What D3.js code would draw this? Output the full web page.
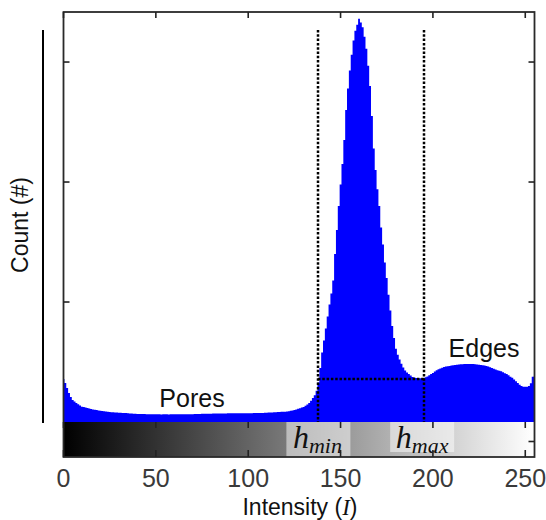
<!DOCTYPE html>
<html><head><meta charset="utf-8">
<script src="https://cdn.jsdelivr.net/npm/d3@7"></script>
<style>body{margin:0;background:#fff}svg{display:block}</style>
</head><body>
<svg id="c" width="546" height="520"></svg>
<script>
// ---- data ----
const counts = [
358,325,283,242,208,183,170,158,148,138,
128,124,120,116,112,108,105,102,99,96,
94,92,90,87,85,83,82,81,80,79,
78,77,76,75,74,72,71,70,69,68,
67,67,66,66,66,65,65,65,64,64,
64,64,64,63,64,64,64,63,64,64,
64,64,64,64,65,64,64,64,64,65,
65,66,66,67,67,68,68,68,69,69,
69,70,70,70,70,71,71,71,71,72,
72,72,72,72,72,72,72,72,73,73,
73,73,73,74,74,75,75,76,76,77,
78,79,79,80,81,82,83,84,85,86,
86,88,90,93,96,100,105,110,115,120,
125,135,146,158,178,200,222,260,330,450,
580,680,780,880,980,1070,1180,1400,1600,1800,
1980,2150,2350,2600,2780,2930,3060,3180,3260,3310,
3360,3330,3290,3210,3110,2970,2800,2550,2280,2100,
1940,1800,1620,1480,1330,1200,1060,930,800,700,
610,560,520,485,455,430,412,400,388,376,
370,367,365,364,364,365,372,380,390,400,
408,420,432,440,445,452,458,462,465,467,
470,472,475,478,480,481,482,483,483,484,
484,484,483,482,480,478,476,473,470,467,
462,456,450,444,438,432,428,422,414,406,
400,390,378,368,355,340,325,310,300,294,
294,294,300,322,378,380
];
const xTicks = [0, 50, 100, 150, 200, 250];
const yTicks = [1000, 2000, 3000];
const hMin = 138, hMax = 195, thresholdCount = 358;
const regionLabels = ["Pores", "Edges"];

// ---- layout ----
const svg = d3.select("#c");
const L = 63.5, R = 534.5, T = 12, B = 422, BB = 457;
const x = d3.scaleLinear().domain([0, 255]).range([L, R]);
const y = d3.scaleLinear().domain([0, 3417]).range([B, T]);

const defs = svg.append("defs");
defs.append("clipPath").attr("id","clip").append("rect")
  .attr("x",L).attr("y",T).attr("width",R-L).attr("height",B-T);
const grad = defs.append("linearGradient").attr("id","gray")
  .attr("gradientUnits","userSpaceOnUse")
  .attr("x1",x(0)).attr("x2",x(255)).attr("y1",0).attr("y2",0);
grad.append("stop").attr("offset","0%").attr("stop-color","#000");
grad.append("stop").attr("offset","100%").attr("stop-color","#fff");

// histogram (step area)
const pts = counts.map((v,i)=>[i-0.5, v]);
pts.push([255.5, counts[255]]);
svg.append("path").attr("clip-path","url(#clip)")
  .datum(pts)
  .attr("fill","#0000ff")
  .attr("d", d3.area().curve(d3.curveStepAfter)
     .x(d=>x(d[0])).y0(B+1).y1(d=>y(d[1])));

// gradient bar
svg.append("rect").attr("x",L).attr("y",B).attr("width",R-L).attr("height",BB-B)
  .attr("fill","url(#gray)");

// threshold boxes + labels
[[hMin,"min"],[hMax,"max"]].forEach(([h,sub],k)=>{
  const cx = x(h) + (k===0? 0 : -1.5);
  svg.append("rect").attr("x",cx-32).attr("y",B).attr("width",64)
    .attr("height", k===0 ? BB-B : BB-B-5)
    .attr("fill","rgba(255,255,255,0.5)");
  const t = svg.append("text").attr("x",cx+ (k===0?-1:0)).attr("y",448)
    .attr("text-anchor","middle")
    .attr("font-family","'Liberation Serif','DejaVu Serif',serif")
    .attr("font-style","italic").attr("fill","#111");
  t.append("tspan").attr("font-size",32).text("h");
  t.append("tspan").attr("font-size",22).attr("dy",5).text(sub);
});

// dotted threshold lines
const dot = sel => sel.attr("stroke","#000").attr("stroke-width",2.5).attr("stroke-dasharray","2.5,1.8").attr("fill","none");
const xa = Math.round(x(hMin)), xb = Math.round(x(hMax)), yt = Math.round(y(thresholdCount));
svg.append("line").attr("x1",xa).attr("x2",xa).attr("y1",30).attr("y2",B).call(dot);
svg.append("line").attr("x1",xb).attr("x2",xb).attr("y1",30).attr("y2",B).call(dot);
svg.append("line").attr("x1",xa).attr("x2",xb).attr("y1",yt).attr("y2",yt).call(dot);

// frame
svg.append("rect").attr("x",L).attr("y",T).attr("width",R-L).attr("height",BB-T)
  .attr("fill","none").attr("stroke","#2a2a2a").attr("stroke-width",1.8);

// ticks
const tk = svg.append("g").attr("stroke","#222").attr("stroke-width",1.6);
xTicks.forEach(v=>{
  tk.append("line").attr("x1",x(v)).attr("x2",x(v)).attr("y1",T).attr("y2",T+6);
  tk.append("line").attr("x1",x(v)).attr("x2",x(v)).attr("y1",B).attr("y2",B+6);
  tk.append("line").attr("x1",x(v)).attr("x2",x(v)).attr("y1",BB).attr("y2",BB-7);
});
yTicks.forEach(v=>{
  tk.append("line").attr("x1",L).attr("x2",L+6).attr("y1",y(v)).attr("y2",y(v));
  tk.append("line").attr("x1",R).attr("x2",R-6).attr("y1",y(v)).attr("y2",y(v));
});
tk.append("line").attr("x1",R).attr("x2",R-6).attr("y1",(B+BB)/2+2).attr("y2",(B+BB)/2+2);

// tick labels
svg.append("g").selectAll("text").data(xTicks).join("text")
  .attr("x",d=>x(d)).attr("y",487).attr("text-anchor","middle")
  .attr("font-family","'Liberation Sans Narrow','Arial Narrow','Liberation Sans',Arial,sans-serif")
  .attr("font-size",25).attr("fill","#3a3a3a").text(d=>d);

// axis titles
const xt = svg.append("text").attr("x",300).attr("y",515).attr("text-anchor","middle")
  .attr("font-family","'Liberation Sans',Arial,sans-serif").attr("font-size",23).attr("fill","#111");
xt.append("tspan").text("Intensity (");
xt.append("tspan").attr("font-family","'Liberation Serif',serif").attr("font-style","italic").text("I");
xt.append("tspan").text(")");

svg.append("text").attr("transform","translate(28,225) rotate(-90)")
  .attr("text-anchor","middle").attr("font-family","'Liberation Sans',Arial,sans-serif")
  .attr("font-size",23).attr("fill","#111").text("Count (#)");
svg.append("line").attr("x1",43).attr("x2",43).attr("y1",30).attr("y2",423)
  .attr("stroke","#000").attr("stroke-width",2);

// region labels
svg.append("text").attr("x",192).attr("y",407).attr("text-anchor","middle")
  .attr("font-family","'Liberation Sans',Arial,sans-serif").attr("font-size",25).attr("fill","#111").text(regionLabels[0]);
svg.append("text").attr("x",484).attr("y",357).attr("text-anchor","middle")
  .attr("font-family","'Liberation Sans',Arial,sans-serif").attr("font-size",25).attr("fill","#111").text(regionLabels[1]);
</script>
</body></html>
